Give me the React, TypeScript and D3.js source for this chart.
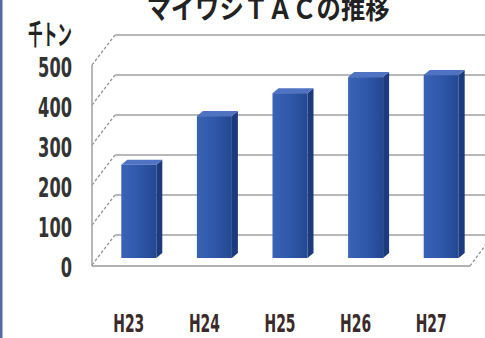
import React from "react";
import * as d3 from "d3";

const categories = ["H23", "H24", "H25", "H26", "H27"];
const values = [232, 353, 410, 450, 455];
const yTicks = [0, 100, 200, 300, 400, 500];
const title = "マイワシＴＡＣの推移";
const unit = "千トン";

const W = 485;
const H = 338;

export default function App() {
  const DX = 23;
  const DY = 30;
  const backLeft = 115;
  const backRight = 493;
  const yBack = d3.scaleLinear().domain([0, 500]).range([235, 35]);
  const xFront = d3.scaleBand<string>().domain(categories).range([92, 470]).padding(0);
  const yBar = d3.scaleLinear().domain([0, 500]).range([258, 57]);
  const barW = 35;
  const sideW = 6;
  const topH = 5;
  const font = "'DejaVu Sans', 'Noto Sans', sans-serif";

  return (
    <svg
      width={W}
      height={H}
      style={{ position: "fixed", left: 0, top: 0, background: "#fff" }}
    >
      <defs>
        <linearGradient id="front" x1="0" x2="1" y1="0" y2="0">
          <stop offset="0" stopColor="#3a63b6" />
          <stop offset="0.5" stopColor="#2f58aa" />
          <stop offset="1" stopColor="#244891" />
        </linearGradient>
      </defs>
      <rect x={0} y={0} width={W} height={H} fill="#fff" />
      <rect x={0} y={0} width={2.5} height={H} fill="#4d6aa6" />

      {/* back wall gridlines */}
      {yTicks.map((t) => (
        <line
          key={"g" + t}
          x1={backLeft}
          x2={backRight}
          y1={yBack(t)}
          y2={yBack(t)}
          stroke="#a0a0a0"
          strokeWidth={1.6}
        />
      ))}
      {/* left wall diagonals */}
      {yTicks.map((t) => (
        <line
          key={"d" + t}
          x1={backLeft - DX}
          y1={yBack(t) + DY}
          x2={backLeft}
          y2={yBack(t)}
          stroke="#8a8a8a"
          strokeWidth={1.2}
          strokeDasharray="3,2"
        />
      ))}
      {/* left wall front edge */}
      <line
        x1={backLeft - DX}
        x2={backLeft - DX}
        y1={yBack(500) + DY}
        y2={yBack(0) + DY + 1}
        stroke="#9a9a9a"
        strokeWidth={1.4}
      />
      {/* floor front edge and right diagonal */}
      <line
        x1={backLeft - DX}
        x2={backRight - DX}
        y1={yBack(0) + DY + 1}
        y2={yBack(0) + DY + 1}
        stroke="#9a9a9a"
        strokeWidth={1.6}
      />
      <line
        x1={backRight - DX}
        y1={yBack(0) + DY + 1}
        x2={backRight}
        y2={yBack(0)}
        stroke="#8a8a8a"
        strokeWidth={1.2}
        strokeDasharray="3,2"
      />

      {/* bars */}
      {categories.map((c, i) => {
        const x0 = (xFront(c) as number) + (xFront.bandwidth() - barW) / 2 + 9;
        const yt = yBar(values[i]);
        const yb = yBar(0);
        return (
          <g key={c}>
            <path
              d={`M${x0 + barW},${yt} L${x0 + barW + sideW},${yt - topH} L${x0 + barW + sideW},${yb - topH} L${x0 + barW},${yb} Z`}
              fill="#1d3b7c"
            />
            <path
              d={`M${x0},${yt} L${x0 + sideW},${yt - topH} L${x0 + barW + sideW},${yt - topH} L${x0 + barW},${yt} Z`}
              fill="#4f73c2"
            />
            <rect x={x0} y={yt} width={barW} height={yb - yt} fill="url(#front)" />
          </g>
        );
      })}

      {/* y tick labels */}
      {yTicks.map((t) => {
        const s = String(t);
        return (
          <text
            key={"t" + t}
            x={72}
            y={yBack(t) + DY + 3}
            dy="0.36em"
            textAnchor="end"
            fontFamily={font}
            fontWeight="bold"
            fontSize={26}
            fill="#333"
            textLength={s.length * 11.3}
            lengthAdjust="spacingAndGlyphs"
          >
            {s}
          </text>
        );
      })}

      {/* unit */}
      <text
        x={28}
        y={45}
        fontFamily="'Noto Sans CJK JP', sans-serif"
        fontWeight="bold"
        fontSize={28}
        fill="#222"
        textLength={44}
        lengthAdjust="spacingAndGlyphs"
      >
        {unit}
      </text>

      {/* category labels */}
      {categories.map((c) => (
        <text
          key={"c" + c}
          x={(xFront(c) as number) + xFront.bandwidth() / 2 - 1}
          y={323}
          dy="0.36em"
          textAnchor="middle"
          fontFamily={font}
          fontWeight="bold"
          fontSize={24}
          fill="#3a2a2a"
          textLength={31}
          lengthAdjust="spacingAndGlyphs"
        >
          {c}
        </text>
      ))}

      {/* title */}
      <text
        x={268}
        y={19}
        textAnchor="middle"
        fontFamily="'Noto Sans CJK JP', sans-serif"
        fontWeight="bold"
        fontSize={28}
        fill="#222"
        textLength={243}
        lengthAdjust="spacingAndGlyphs"
      >
        {title}
      </text>
    </svg>
  );
}
